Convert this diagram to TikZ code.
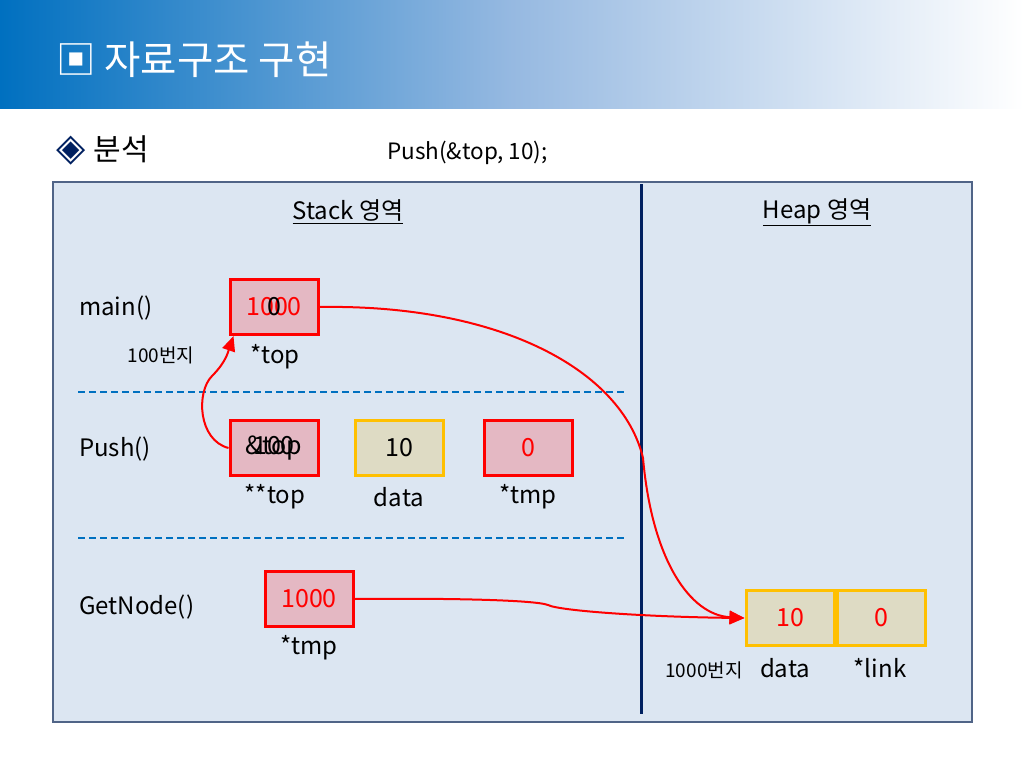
\documentclass[tikz,border=0pt]{standalone}
\usepackage{fontspec}
\setmainfont{Noto Sans CJK KR}
\newfontfamily\symfont{DejaVu Sans}
\usetikzlibrary{arrows.meta}
\definecolor{hdrblue}{RGB}{0,112,192}
\definecolor{hdrmid}{RGB}{150,185,225}
\definecolor{panel}{RGB}{220,230,242}
\definecolor{panelline}{RGB}{80,100,135}
\definecolor{navy}{RGB}{0,32,96}
\definecolor{pinkfill}{RGB}{228,184,195}
\definecolor{tanfill}{RGB}{222,219,196}
\definecolor{yel}{RGB}{255,192,0}
\definecolor{dashblue}{RGB}{0,112,192}
\definecolor{diam}{RGB}{0,32,96}
\tikzset{
  x=1pt, y=-1pt,
  redbox/.style={draw=red, line width=3pt, fill=pinkfill, minimum width=88pt, minimum height=55pt, inner sep=0pt, font=\fontsize{25}{28}\selectfont},
  yelbox/.style={draw=yel, line width=3pt, fill=tanfill, minimum width=88pt, minimum height=55pt, inner sep=0pt, font=\fontsize{25}{28}\selectfont},
  lbl/.style={font=\fontsize{24}{27}\selectfont, inner sep=0pt},
  olbl/.style={font=\fontsize{25}{28}\selectfont, inner sep=0pt},
  small/.style={font=\fontsize{19}{22}\selectfont, inner sep=0pt},
  ptr/.style={draw=red, line width=2pt, -{Triangle[length=15pt,width=13pt]}},
  sep/.style={draw=dashblue, line width=1.5pt, dash pattern=on 7pt off 4pt}
}
\begin{document}
\begin{tikzpicture}
\useasboundingbox (0,0) rectangle (1024,768);
\fill[white] (0,0) rectangle (1024,768);
% header
\shade[left color=hdrblue, right color=white, middle color=hdrmid] (0,0) rectangle (1024,108);
\node[anchor=west, text=white, font=\fontsize{39.5}{44}\selectfont, inner sep=0pt] (title) at (56,60) {▣ 자료구조 구현};
% subtitle
\node[anchor=west, font=\fontsize{30}{34}\selectfont, inner sep=0pt] (sub) at (56,150) {\textcolor{diam}{\symfont\fontsize{38}{40}\selectfont ◈}\hspace{8pt}분석};
\node[anchor=west, font=\fontsize{22.5}{26}\selectfont, inner sep=0pt] (call) at (387,153) {Push(\&top, 10);};
% panel
\draw[panelline, line width=2pt, fill=panel] (53,182) rectangle (972,722);
\draw[navy, line width=3pt] (641,184) -- (641,714);
\node[lbl] (stack) at (348,212) {\underline{Stack 영역}};
\node[lbl] (heap) at (817,212) {\underline{Heap 영역}};
\draw[sep] (78,392) -- (625,392);
\draw[sep] (78,538) -- (625,538);
% row labels
\node[lbl, anchor=west] (lmain) at (79,308) {main()};
\node[lbl, anchor=west] (lpush) at (79,449) {Push()};
\node[lbl, anchor=west] (lget) at (79,607) {GetNode()};
% main
\node[redbox] (mtop) at (274,307) {\textcolor{red}{1000}};
\node[olbl, anchor=base] (mtop0) at (mtop.base) {0};
\node[lbl] (mtopl) at (275,357) {*top};
\node[small] (addr100) at (161,355) {100번지};
% push
\node[redbox] (ptop) at (274,448) {\&top};
\node[olbl, anchor=base] (ptop100) at (ptop.base) {100};
\node[yelbox] (pdata) at (399,448) {10};
\node[redbox] (ptmp) at (528,448) {\textcolor{red}{0}};
\node[lbl] (ptopl) at (275,497) {**top};
\node[lbl] (pdatal) at (399,497) {data};
\node[lbl] (ptmpl) at (528,497) {*tmp};
% getnode
\node[redbox] (gtmp) at (309,599) {\textcolor{red}{1000}};
\node[lbl] (gtmpl) at (309,648) {*tmp};
% heap
\node[yelbox] (hdata) at (790,618) {\textcolor{red}{10}};
\node[yelbox, anchor=west] (hlink) at (hdata.east) {\textcolor{red}{0}};
\node[small] (addr1000) at (704,670) {1000번지};
\node[lbl] (hdatal) at (785,668) {data};
\node[lbl] (hlinkl) at (880,668) {*link};
% pointers
\draw[ptr] (ptop.west) .. controls (198,440) and (196,392) .. (212,376) .. controls (226,362) and (228,352) .. ([xshift=5pt]mtop.south west);
\draw[ptr] (mtop.east) .. controls (500,304) and (622,370) .. (643,458) .. controls (652,560) and (690,615) .. (hdata.west);
\draw[ptr] (gtmp.east) .. controls (450,598) and (535,600) .. (548,605) .. controls (560,611) and (650,617) .. (hdata.west);
\end{tikzpicture}
\end{document}
